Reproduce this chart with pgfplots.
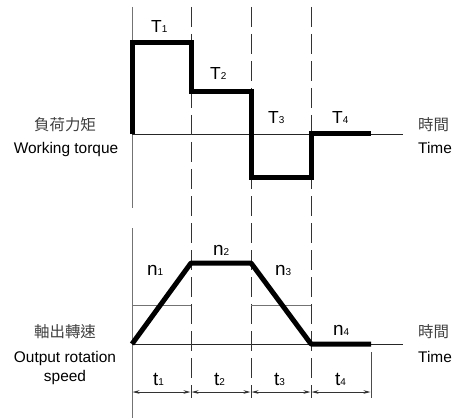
\documentclass[border=0pt]{standalone}
\usepackage{pgfplots}
\pgfplotsset{compat=1.18}
\usepackage{fontspec}
\setmainfont{Liberation Sans}
\newfontfamily\cjk{Noto Sans CJK TC}
\usetikzlibrary{arrows.meta}
\newcommand{\sub}[1]{{\fontsize{10}{10}\selectfont #1}}
\begin{document}
\begin{tikzpicture}
\begin{axis}[
  at={(0,0)}, anchor=south west,
  scale only axis, width=454bp, height=419bp,
  xmin=0, xmax=454, ymin=0, ymax=419, y dir=reverse,
  hide axis, clip=false,
  every axis plot/.append style={no markers},
]
% ---------- thin guide lines ----------
\addplot[black!55, line width=0.9bp] coordinates {(132,7) (132,208)};
\addplot[black!55, line width=0.9bp] coordinates {(132,228) (132,418)};
\addplot[black!85, line width=0.9bp] coordinates {(132,134) (403,134)};
\addplot[black!85, line width=0.9bp] coordinates {(132,344) (403,344)};
\addplot[black!80, line width=0.9bp, dash pattern=on 20bp off 7bp] coordinates {(191,7) (191,398)};
\addplot[black!80, line width=0.9bp, dash pattern=on 20bp off 7bp] coordinates {(251,7) (251,398)};
\addplot[black!80, line width=0.9bp, dash pattern=on 20bp off 7bp] coordinates {(311,7) (311,398)};
\addplot[black!70, line width=0.9bp] coordinates {(371,352) (371,398)};
\addplot[black!55, line width=0.9bp] coordinates {(132,305) (191,305)};
\addplot[black!55, line width=0.9bp] coordinates {(251,305) (311,305)};
% ---------- dimension arrows ----------
\addplot[black!80, line width=0.8bp, {Stealth[length=7bp,width=3.5bp]}-{Stealth[length=7bp,width=3.5bp]}] coordinates {(132.5,392) (190.5,392)};
\addplot[black!80, line width=0.8bp, {Stealth[length=7bp,width=3.5bp]}-{Stealth[length=7bp,width=3.5bp]}] coordinates {(191.5,392) (250.5,392)};
\addplot[black!80, line width=0.8bp, {Stealth[length=7bp,width=3.5bp]}-{Stealth[length=7bp,width=3.5bp]}] coordinates {(251.5,392) (310.5,392)};
\addplot[black!80, line width=0.8bp, {Stealth[length=7bp,width=3.5bp]}-{Stealth[length=7bp,width=3.5bp]}] coordinates {(311.5,392) (370.5,392)};
% ---------- working torque profile ----------
\addplot[black, line width=5bp, line join=miter] coordinates {
  (132,134) (132,43) (191,43) (191,92) (251,92) (251,177) (311,177) (311,133) (371,133)};
% ---------- output speed profile ----------
\addplot[black, line width=5bp, line join=round] coordinates {
  (132,344) (191,263) (251,263) (311,344) (371,344)};
% ---------- labels ----------
\node[anchor=base west, font=\fontsize{17.5}{18}\selectfont, inner sep=0] at (151,33) {T\sub{1}};
\node[anchor=base west, font=\fontsize{17.5}{18}\selectfont, inner sep=0] at (210,80) {T\sub{2}};
\node[anchor=base west, font=\fontsize{17.5}{18}\selectfont, inner sep=0] at (268,123) {T\sub{3}};
\node[anchor=base west, font=\fontsize{17.5}{18}\selectfont, inner sep=0] at (332,123) {T\sub{4}};
\node[anchor=base west, font=\fontsize{19}{18}\selectfont, inner sep=0] at (147,275) {n\sub{1}};
\node[anchor=base west, font=\fontsize{19}{18}\selectfont, inner sep=0] at (213,255) {n\sub{2}};
\node[anchor=base west, font=\fontsize{19}{18}\selectfont, inner sep=0] at (275,275) {n\sub{3}};
\node[anchor=base west, font=\fontsize{19}{18}\selectfont, inner sep=0] at (333,335) {n\sub{4}};
\node[anchor=base west, font=\fontsize{19}{18}\selectfont, inner sep=0] at (153,385) {t\sub{1}};
\node[anchor=base west, font=\fontsize{19}{18}\selectfont, inner sep=0] at (214,385) {t\sub{2}};
\node[anchor=base west, font=\fontsize{19}{18}\selectfont, inner sep=0] at (274,385) {t\sub{3}};
\node[anchor=base west, font=\fontsize{19}{18}\selectfont, inner sep=0] at (335,385) {t\sub{4}};
% left side
\node[anchor=center, font=\cjk\fontsize{15.5}{18}\selectfont, text=black!75, inner sep=0] at (65,125) {負荷力矩};
\node[anchor=base, font=\fontsize{15.5}{18}\selectfont, inner sep=0] at (66,153) {Working torque};
\node[anchor=center, font=\cjk\fontsize{15.5}{18}\selectfont, text=black!75, inner sep=0] at (65,332) {軸出轉速};
\node[anchor=base, font=\fontsize{15.5}{18}\selectfont, inner sep=0] at (65,362) {Output rotation};
\node[anchor=base, font=\fontsize{15.5}{18}\selectfont, inner sep=0] at (65,381) {speed};
% right side
\node[anchor=west, font=\cjk\fontsize{15.5}{18}\selectfont, text=black!75, inner sep=0] at (418,125) {時間};
\node[anchor=base west, font=\fontsize{15.5}{18}\selectfont, inner sep=0] at (418,153) {Time};
\node[anchor=west, font=\cjk\fontsize{15.5}{18}\selectfont, text=black!75, inner sep=0] at (418,332) {時間};
\node[anchor=base west, font=\fontsize{15.5}{18}\selectfont, inner sep=0] at (418,362) {Time};
\end{axis}
\pgfresetboundingbox
\path (0,0) rectangle (454bp,419bp);
\end{tikzpicture}
\end{document}
